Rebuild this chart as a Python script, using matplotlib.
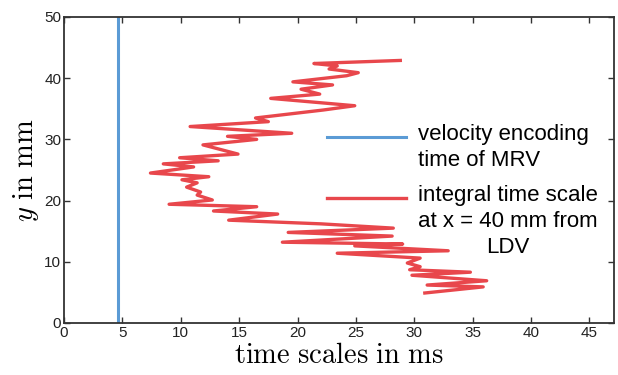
import matplotlib
matplotlib.use("Agg")
import matplotlib.pyplot as plt

# Datos
y_pos = [42.9, 42.4, 42.0, 41.5, 40.9, 40.4, 39.4, 38.9, 38.2, 37.4, 36.7, 35.5,
         34.8, 33.5, 32.9, 32.1, 31.0, 30.5, 30.0, 29.1, 27.6, 27.0, 26.5, 26.0,
         25.5, 24.5, 23.9, 23.4, 22.9, 22.2, 21.4, 20.9, 20.1, 19.4, 19.0, 18.3,
         17.8, 16.8, 16.2, 15.5, 14.8, 14.2, 13.2, 12.9, 12.6, 11.8, 11.4, 10.6,
         9.8, 9.2, 8.7, 8.3, 7.8, 6.9, 6.2, 5.9, 4.9]
t_integral = [28.8, 21.4, 23.4, 22.7, 25.2, 24.2, 19.6, 23.0, 20.3, 21.9, 17.7, 24.9,
              22.2, 16.4, 17.5, 10.8, 19.5, 14.0, 16.5, 11.9, 14.9, 9.9, 13.2, 8.5,
              11.1, 7.4, 12.4, 10.1, 11.4, 10.5, 11.7, 11.4, 12.7, 9.0, 16.5, 12.8,
              18.3, 14.1, 22.0, 28.2, 19.2, 28.1, 18.7, 29.0, 24.9, 32.9, 23.4, 30.5,
              29.4, 30.5, 29.6, 34.8, 29.8, 36.2, 31.1, 35.9, 30.9]
t_mrv = 4.6
y_mrv = [0, 50]

x_ticks = [0, 5, 10, 15, 20, 25, 30, 35, 40, 45]
y_ticks = [0, 10, 20, 30, 40, 50]

plt.rcParams['font.family'] = ['Liberation Sans', 'DejaVu Sans']
plt.rcParams['mathtext.fontset'] = 'cm'

fig = plt.figure(figsize=(6.18, 3.75), dpi=100)
ax = fig.add_axes([0.1036, 0.1387, 0.8899, 0.816])

ax.plot([t_mrv, t_mrv], y_mrv, color='#5B9BD5', lw=2.2,
        label='velocity encoding\ntime of MRV')
ax.plot(t_integral, y_pos, color='#E8474C', lw=2.4,
        label='integral time scale\nat x = 40 mm from\nLDV')

ax.set_xlim(0, 47.1)
ax.set_ylim(0, 50)
ax.set_xticks(x_ticks)
ax.set_yticks(y_ticks)
ax.tick_params(direction='in', top=True, right=True, labelsize=11,
               length=4, width=1, colors='#333333', pad=2)
ax.tick_params(labelcolor='#222222')
for s in ax.spines.values():
    s.set_linewidth(1.3)
    s.set_color('#333333')

ax.set_xlabel(r'$\mathrm{time\ scales\ in\ ms}$', fontsize=20.5, labelpad=2)
ax.set_ylabel(r'$y\ \mathrm{in\ mm}$', fontsize=20.5, labelpad=2)

leg = ax.legend(loc='upper left', bbox_to_anchor=(0.478, 0.649), frameon=False,
                fontsize=16, handlelength=3.56, handletextpad=0.54,
                labelspacing=0.63, borderpad=0, borderaxespad=0)
for t in leg.get_texts():
    t.set_linespacing(1.3)
leg.get_texts()[1].set_multialignment('center')

# subo las lineas de la leyenda a la primera linea del texto
shifts = [8.0, 17.0]
for line, dy in zip(leg.get_lines(), shifts):
    yd = line.get_ydata()
    line.set_ydata([v + dy for v in yd])

plt.savefig('out.png', dpi=100)
